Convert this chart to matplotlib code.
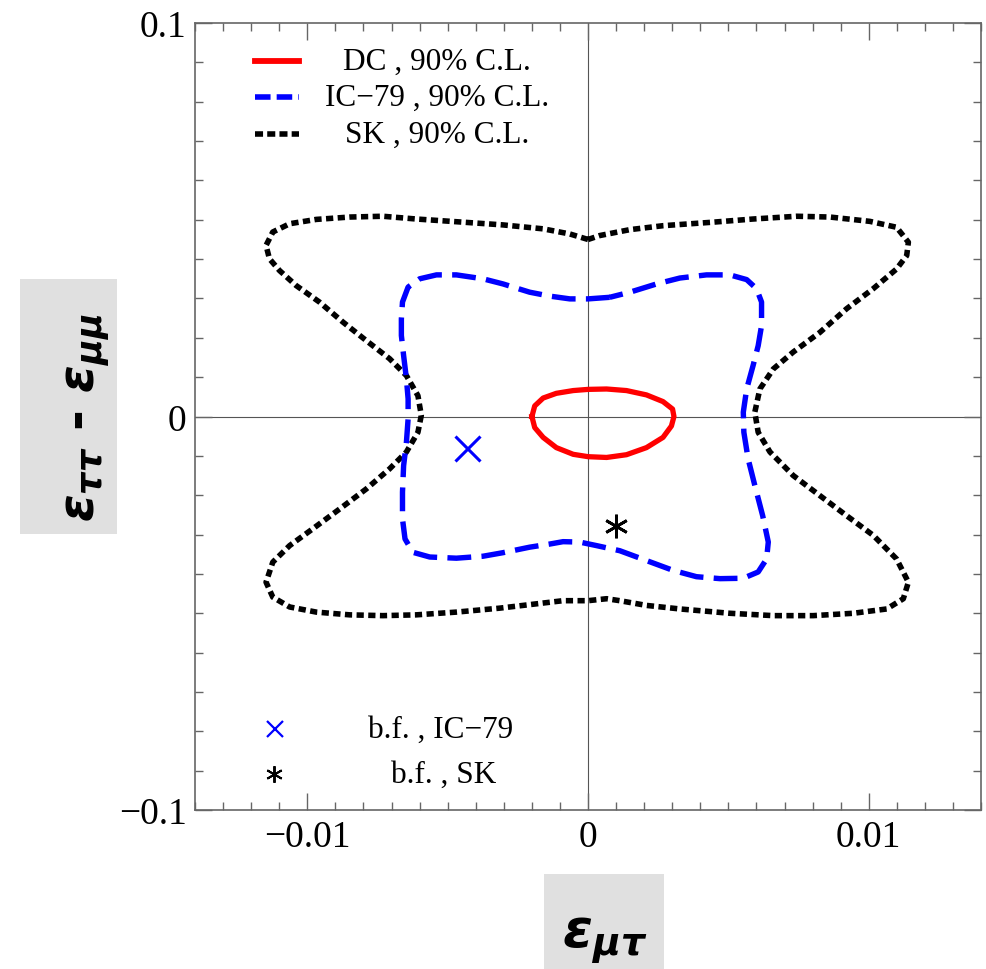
# NSI contours: eps_mutau vs (eps_tautau - eps_mumu), 90% C.L. regions
import matplotlib
matplotlib.use('Agg')
import matplotlib.pyplot as plt
from matplotlib.patches import Rectangle

plt.rcParams['font.family'] = ['Liberation Serif', 'DejaVu Serif']
plt.rcParams['mathtext.fontset'] = 'custom'
plt.rcParams['mathtext.it'] = 'DejaVu Sans:italic:bold'
plt.rcParams['mathtext.rm'] = 'DejaVu Sans:bold'
plt.rcParams['mathtext.bf'] = 'DejaVu Sans:bold'

# DeepCore 90% C.L. contour
dc_x = [-0.00200, -0.00190, -0.00160, -0.00113, -0.00053, 0.0, 0.00066, 0.00137,
        0.00208, 0.00267, 0.00301, 0.00306, 0.00297, 0.00267, 0.00208, 0.00137,
        0.00066, 0.0, -0.00053, -0.00113, -0.00160, -0.00190, -0.00200]
dc_y = [0.0000, 0.0027, 0.0047, 0.0059, 0.0066, 0.0069, 0.0070, 0.0066,
        0.0055, 0.0038, 0.0019, 0.0000, -0.0024, -0.0053, -0.0079, -0.0097,
        -0.0104, -0.0102, -0.0096, -0.0079, -0.0053, -0.0028, 0.0000]

# IceCube-79 90% C.L. contour
ic_x = [0.00077, 0.0, -0.00065, -0.00136, -0.00208, -0.00303, -0.00374, -0.00469,
        -0.00540, -0.00600, -0.00641, -0.00661, -0.00665, -0.00665, -0.00657, -0.00647,
        -0.00641, -0.00641, -0.00647, -0.00657, -0.00661, -0.00661, -0.00652, -0.00624,
        -0.00564, -0.00469, -0.00374, -0.00303, -0.00208, -0.00136, -0.00089, -0.00030,
        0.00030, 0.00113, 0.00208, 0.00303, 0.00386, 0.00470, 0.00553, 0.00606,
        0.00636, 0.00642, 0.00622, 0.00594, 0.00570, 0.00555, 0.00553, 0.00565,
        0.00588, 0.00606, 0.00618, 0.00618, 0.00600, 0.00565, 0.00505, 0.00422,
        0.00327, 0.00244, 0.00149, 0.00077]
ic_y = [0.0303, 0.0299, 0.0299, 0.0306, 0.0316, 0.0337, 0.0350, 0.0360,
        0.0360, 0.0350, 0.0329, 0.0291, 0.0248, 0.0206, 0.0155, 0.0096,
        0.0045, -0.0006, -0.0065, -0.0125, -0.0192, -0.0260, -0.0311, -0.0345,
        -0.0357, -0.0360, -0.0355, -0.0346, -0.0332, -0.0324, -0.0318, -0.0319,
        -0.0328, -0.0341, -0.0366, -0.0391, -0.0407, -0.0412, -0.0411, -0.0395,
        -0.0362, -0.0319, -0.0252, -0.0175, -0.0107, -0.0040, 0.0011, 0.0070,
        0.0130, 0.0180, 0.0231, 0.0291, 0.0325, 0.0348, 0.0360, 0.0360,
        0.0352, 0.0337, 0.0316, 0.0303]

# Super-Kamiokande 90% C.L. contour
sk_x = [0.0, -0.00065, -0.00160, -0.00303, -0.00446, -0.00612, -0.00731, -0.00849,
        -0.00968, -0.01063, -0.01123, -0.01147, -0.01135, -0.01099, -0.01040, -0.00957,
        -0.00873, -0.00790, -0.00707, -0.00647, -0.00606, -0.00594, -0.00606, -0.00647,
        -0.00707, -0.00790, -0.00885, -0.00980, -0.01063, -0.01123, -0.01147, -0.01123,
        -0.01063, -0.00968, -0.00849, -0.00731, -0.00612, -0.00469, -0.00315, -0.00184,
        -0.00089, 0.0, 0.00066, 0.00113, 0.00208, 0.00327, 0.00505, 0.00660,
        0.00802, 0.00945, 0.01064, 0.01123, 0.01141, 0.01099, 0.01016, 0.00921,
        0.00826, 0.00731, 0.00648, 0.00606, 0.00594, 0.00612, 0.00660, 0.00731,
        0.00826, 0.00921, 0.01016, 0.01099, 0.01135, 0.01141, 0.01099, 0.01004,
        0.00862, 0.00743, 0.00588, 0.00446, 0.00267, 0.00149, 0.00042, 0.0]
sk_y = [0.0450, 0.0464, 0.0477, 0.0487, 0.0494, 0.0502, 0.0509, 0.0507,
        0.0501, 0.0490, 0.0469, 0.0435, 0.0401, 0.0371, 0.0333, 0.0291,
        0.0240, 0.0193, 0.0147, 0.0104, 0.0053, 0.0003, -0.0040, -0.0090,
        -0.0133, -0.0184, -0.0235, -0.0285, -0.0328, -0.0370, -0.0421, -0.0459,
        -0.0484, -0.0497, -0.0504, -0.0506, -0.0504, -0.0497, -0.0487, -0.0476,
        -0.0468, -0.0468, -0.0463, -0.0468, -0.0480, -0.0489, -0.0500, -0.0506,
        -0.0506, -0.0500, -0.0489, -0.0463, -0.0421, -0.0362, -0.0302, -0.0252,
        -0.0201, -0.0150, -0.0090, -0.0040, 0.0011, 0.0070, 0.0121, 0.0164,
        0.0214, 0.0274, 0.0325, 0.0375, 0.0409, 0.0443, 0.0481, 0.0496,
        0.0507, 0.0509, 0.0502, 0.0494, 0.0485, 0.0475, 0.0460, 0.0450]

# best fit points
bf_ic = (-0.0043, -0.0080)
bf_sk = (0.0010, -0.0277)

x_ticks = [-0.01, 0, 0.01]
x_ticklabels = ['\u22120.01', '0', '0.01']
y_ticks = [-0.1, 0, 0.1]
y_ticklabels = ['\u22120.1', '0', '0.1']

legend_labels = ['DC , 90% C.L.', 'IC\u221279 , 90% C.L.', 'SK , 90% C.L.']
bf_labels = ['b.f. , IC\u221279', 'b.f. , SK']

fig = plt.figure(figsize=(9.87, 9.70), dpi=100)
ax = fig.add_axes([0.1976, 0.1639, 0.7964, 0.8113])

# axes through the origin
ax.axhline(0, color='#555555', lw=0.8, zorder=1)
ax.axvline(0, color='#555555', lw=0.8, zorder=1)

# contours
ax.plot(sk_x, sk_y, color='black', lw=4.0, linestyle=(0, (1.3, 0.8)), zorder=3)
ax.plot(ic_x, ic_y, color='#0000ff', lw=3.9, linestyle=(0, (4.4, 1.9)), zorder=3)
ax.plot(dc_x, dc_y, color='#ff0000', lw=3.8, zorder=4)

# best fit markers
ax.plot([bf_ic[0]], [bf_ic[1]], linestyle='none', marker='x', ms=18, mew=2.2,
        color='#0000ff', zorder=5)
ax.plot([bf_sk[0]], [bf_sk[1]], linestyle='none', marker=(6, 2, 0), ms=17, mew=2.0,
        color='black', zorder=5)

ax.set_xlim(-0.014, 0.014)
ax.set_ylim(-0.1, 0.1)

ax.set_xticks(x_ticks)
ax.set_xticklabels(x_ticklabels)
ax.set_xticks([i * 0.001 for i in range(-14, 15)], minor=True)
ax.set_yticks(y_ticks)
ax.set_yticklabels(y_ticklabels)
ax.set_yticks([i * 0.01 for i in range(-10, 11)], minor=True)

ax.tick_params(which='both', direction='in', top=True, right=True,
               color='#666666', width=1.0)
ax.tick_params(which='major', length=12, labelsize=27, pad=6)
ax.tick_params(which='minor', length=6)
ax.tick_params(axis='x', which='major', pad=7)

for sp in ax.spines.values():
    sp.set_color('#666666')
    sp.set_linewidth(1.2)

# hand-made legend (top-left)
leg_styles = [dict(color='#ff0000', lw=4.2, linestyle='-'),
              dict(color='#0000ff', lw=4.0, linestyle=(0, (2.8, 1.1))),
              dict(color='black', lw=4.0, linestyle=(0, (1.45, 0.75)))]
leg_y = [0.952, 0.906, 0.859]
for lab, st, yy in zip(legend_labels, leg_styles, leg_y):
    ax.plot([0.0763, 0.1323], [yy, yy], transform=ax.transAxes, **st)
    ax.text(0.308, yy, lab, transform=ax.transAxes, ha='center', va='center',
            fontsize=22.5)

ax.plot([0.1018], [0.1029], transform=ax.transAxes, linestyle='none', marker='x',
        ms=12, mew=1.6, color='#0000ff')
ax.text(0.3118, 0.1029, bf_labels[0], transform=ax.transAxes, ha='center',
        va='center', fontsize=22.5)
ax.plot([0.1008], [0.0457], transform=ax.transAxes, linestyle='none', marker=(6, 2, 0),
        ms=12, mew=1.4, color='black')
ax.text(0.3168, 0.0457, bf_labels[1], transform=ax.transAxes, ha='center',
        va='center', fontsize=22.5)

# grey boxed axis labels
fig.patches.append(Rectangle((0.0203, 0.4485), 0.0983, 0.2629, transform=fig.transFigure,
                             facecolor='#e0e0e0', edgecolor='none', zorder=0))
fig.patches.append(Rectangle((0.5512, 0.0), 0.1216, 0.0979, transform=fig.transFigure,
                             facecolor='#e0e0e0', edgecolor='none', zorder=0))
fig.text(0.0887, 0.5696, r'$\varepsilon_{\tau\tau}$ - $\varepsilon_{\mu\mu}$',
         rotation=90, ha='center', va='center', fontsize=36,
         family='DejaVu Sans', fontweight='bold')
fig.text(0.613, 0.0227, r'$\varepsilon_{\mu\tau}$', ha='center', va='baseline',
         fontsize=39, family='DejaVu Sans', fontweight='bold')

plt.savefig('out.png', dpi=100)
plt.close()
